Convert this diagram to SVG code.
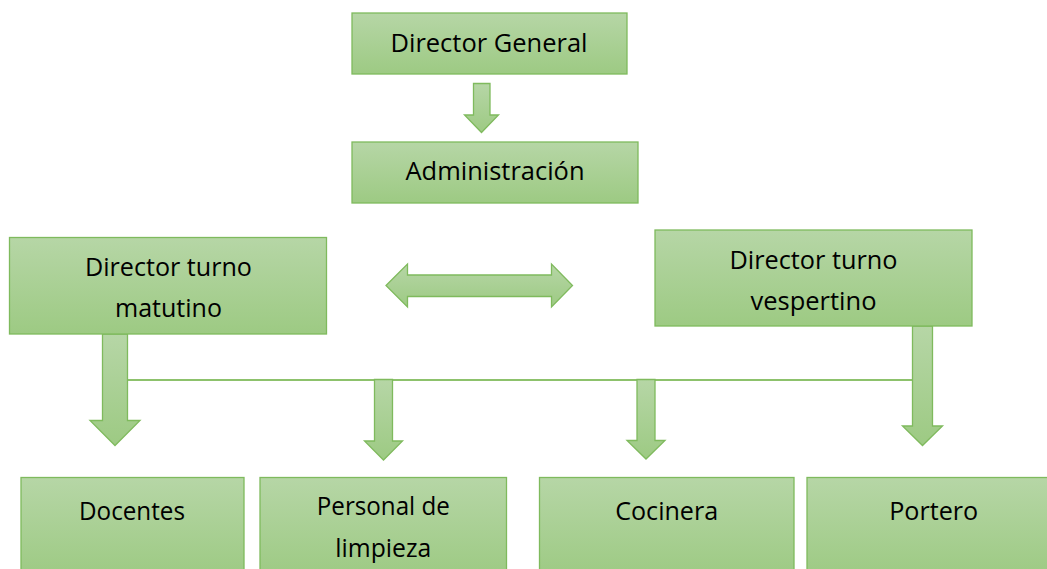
<svg xmlns="http://www.w3.org/2000/svg" width="1047" height="569" viewBox="0 0 1047 569">
<defs>
<linearGradient id="g" x1="0" y1="0" x2="0" y2="1">
<stop offset="0" stop-color="#b6d6a6"/>
<stop offset="1" stop-color="#9dca83"/>
</linearGradient>
<style>
.box{fill:url(#g);stroke:#7fba5d;stroke-width:1.3}
.arr{fill:url(#g);stroke:#7fba5d;stroke-width:1.3;stroke-linejoin:miter}
.t{font-family:"Open Sans","Liberation Sans",sans-serif;font-size:25px;fill:#000;text-anchor:middle}
.ln{stroke:#8dc26c;stroke-width:2;fill:none}
</style>
</defs>
<rect width="1047" height="569" fill="#fff"/>
<g id="connectors">
<path class="ln" d="M127 380 H913"/>
<polygon class="arr" points="473.5,83.5 490,83.5 490,115 498.5,115 481.5,132.5 464.5,115 473.5,115"/>
<polygon class="arr" points="386,285.5 407.5,264 407.5,275 551.5,275 551.5,264 572.5,285.5 551.5,307 551.5,296.5 407.5,296.5 407.5,307"/>
<polygon class="arr" points="102.5,334 127.5,334 127.5,420.5 140,420.5 115,445.5 90,420.5 102.5,420.5"/>
<polygon class="arr" points="374.5,379.5 392.5,379.5 392.5,441 402.5,441 383.5,460 364.5,441 374.5,441"/>
<polygon class="arr" points="637,379.5 655,379.5 655,440.5 665,440.5 646,459 627,440.5 637,440.5"/>
<polygon class="arr" points="912.5,326 932.5,326 932.5,426 942.5,426 922.5,445.5 902.5,426 912.5,426"/>
</g>
<g id="director-general">
<rect class="box" x="352" y="13" width="275" height="61"/>
<text class="t" x="489" y="52" textLength="197" lengthAdjust="spacingAndGlyphs">Director General</text>
</g>
<g id="administracion">
<rect class="box" x="352" y="142" width="286" height="61"/>
<text class="t" x="495" y="180" textLength="179" lengthAdjust="spacingAndGlyphs">Administración</text>
</g>
<g id="director-matutino">
<rect class="box" x="9.5" y="237.5" width="317" height="96.5"/>
<text class="t" x="168.5" y="276" textLength="167" lengthAdjust="spacingAndGlyphs">Director turno</text>
<text class="t" x="168.5" y="317" textLength="107" lengthAdjust="spacingAndGlyphs">matutino</text>
</g>
<g id="director-vespertino">
<rect class="box" x="655" y="230" width="317" height="96"/>
<text class="t" x="813.5" y="269" textLength="168" lengthAdjust="spacingAndGlyphs">Director turno</text>
<text class="t" x="813.5" y="310" textLength="126" lengthAdjust="spacingAndGlyphs">vespertino</text>
</g>
<g id="docentes">
<rect class="box" x="21" y="477.5" width="223" height="100"/>
<text class="t" x="132" y="520" textLength="106" lengthAdjust="spacingAndGlyphs">Docentes</text>
</g>
<g id="personal-limpieza">
<rect class="box" x="260" y="477.5" width="246.5" height="100"/>
<text class="t" x="383.3" y="515" textLength="133" lengthAdjust="spacingAndGlyphs">Personal de</text>
<text class="t" x="383.3" y="556.5" textLength="96" lengthAdjust="spacingAndGlyphs">limpieza</text>
</g>
<g id="cocinera">
<rect class="box" x="539.5" y="477.5" width="254.5" height="100"/>
<text class="t" x="666.7" y="520" textLength="103" lengthAdjust="spacingAndGlyphs">Cocinera</text>
</g>
<g id="portero">
<rect class="box" x="807" y="477.5" width="253" height="100"/>
<text class="t" x="933.7" y="520" textLength="89" lengthAdjust="spacingAndGlyphs">Portero</text>
</g>
</svg>
